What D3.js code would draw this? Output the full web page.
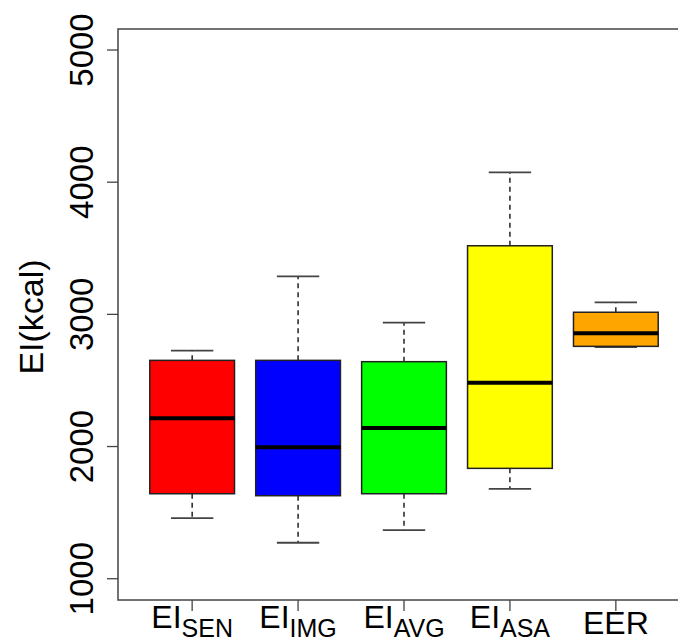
<!DOCTYPE html>
<html>
<head>
<meta charset="utf-8">
<script src="https://cdn.jsdelivr.net/npm/d3@7"></script>
<style>
  html, body { margin: 0; padding: 0; background: #fff; }
  svg { display: block; }
  text { font-family: Arial, "Liberation Sans", sans-serif; fill: #000; }
</style>
</head>
<body>
<svg id="chart" width="678" height="641"></svg>
<script>
// Energy intake by method (kcal): five-number summaries per group
const labelMain = ["EI", "EI", "EI", "EI", "EER"];
const labelSub = ["SEN", "IMG", "AVG", "ASA", ""];
const lowWhisker = [1459, 1272, 1368, 1679, 2752];
const q1 = [1643, 1628, 1643, 1835, 2758];
const median = [2214, 1994, 2140, 2483, 2857];
const q3 = [2652, 2652, 2642, 3519, 3016];
const highWhisker = [2725, 3288, 2937, 4075, 3091];
const boxColors = ["#FF0000", "#0000FF", "#00FF00", "#FFFF00", "#FFA500"];
const yTicks = [1000, 2000, 3000, 4000, 5000];

const svg = d3.select("#chart");

const x = d3.scaleLinear().domain([0.3, 5.7]).range([118, 690]);
const y = d3.scaleLinear().domain([839, 5159]).range([600, 29]);

const boxHalf = 0.4;   // half box width in category units
const capHalf = 0.2;   // half whisker-cap width

const data = median.map((m, i) => ({
  pos: i + 1,
  lo: lowWhisker[i], q1: q1[i], med: m, q3: q3[i], hi: highWhisker[i],
  color: boxColors[i], main: labelMain[i], sub: labelSub[i]
}));

const g = svg.append("g");

data.forEach(d => {
  const cx = x(d.pos);
  // dashed whiskers
  g.append("line")
    .attr("x1", cx).attr("x2", cx)
    .attr("y1", y(d.q3)).attr("y2", y(d.hi))
    .attr("stroke", "#000").attr("stroke-width", 1.3)
    .attr("stroke-dasharray", "5,4");
  g.append("line")
    .attr("x1", cx).attr("x2", cx)
    .attr("y1", y(d.q1)).attr("y2", y(d.lo))
    .attr("stroke", "#000").attr("stroke-width", 1.3)
    .attr("stroke-dasharray", "5,4");
  // whisker caps
  [d.hi, d.lo].forEach(v => {
    g.append("line")
      .attr("x1", x(d.pos - capHalf)).attr("x2", x(d.pos + capHalf))
      .attr("y1", y(v)).attr("y2", y(v))
      .attr("stroke", "#444").attr("stroke-width", 1.8);
  });
  // box
  g.append("rect")
    .attr("x", x(d.pos - boxHalf))
    .attr("y", y(d.q3))
    .attr("width", x(d.pos + boxHalf) - x(d.pos - boxHalf))
    .attr("height", y(d.q1) - y(d.q3))
    .attr("fill", d.color)
    .attr("stroke", "#222").attr("stroke-width", 1.5);
  // median
  g.append("line")
    .attr("x1", x(d.pos - boxHalf)).attr("x2", x(d.pos + boxHalf))
    .attr("y1", y(d.med)).attr("y2", y(d.med))
    .attr("stroke", "#000").attr("stroke-width", 4);
});

// plot frame
svg.append("rect")
  .attr("x", x(0.3)).attr("y", y(5159))
  .attr("width", x(5.7) - x(0.3))
  .attr("height", y(839) - y(5159))
  .attr("fill", "none").attr("stroke", "#444").attr("stroke-width", 1.5);

// y axis ticks and rotated labels
yTicks.forEach(t => {
  svg.append("line")
    .attr("x1", 107).attr("x2", x(0.3))
    .attr("y1", y(t)).attr("y2", y(t))
    .attr("stroke", "#444").attr("stroke-width", 1.3);
  svg.append("text")
    .attr("transform", `translate(93,${y(t)}) rotate(-90)`)
    .attr("text-anchor", "middle")
    .attr("font-size", 33)
    .text(t);
});

// y axis title
svg.append("text")
  .attr("transform", `translate(43,${317}) rotate(-90)`)
  .attr("text-anchor", "middle")
  .attr("font-size", 34)
  .text("EI(kcal)");

// x axis ticks and labels
data.forEach(d => {
  const cx = x(d.pos);
  svg.append("line")
    .attr("x1", cx).attr("x2", cx)
    .attr("y1", 600).attr("y2", 611)
    .attr("stroke", "#444").attr("stroke-width", 1.3);
  const t = svg.append("text")
    .attr("x", cx).attr("text-anchor", "middle");
  if (d.sub) {
    t.attr("y", 628);
    t.append("tspan").attr("font-size", 32).text(d.main);
    t.append("tspan").attr("font-size", 25).attr("dy", 9).text(d.sub);
  } else {
    t.attr("y", 634).attr("font-size", 32).text(d.main);
  }
});
</script>
</body>
</html>
